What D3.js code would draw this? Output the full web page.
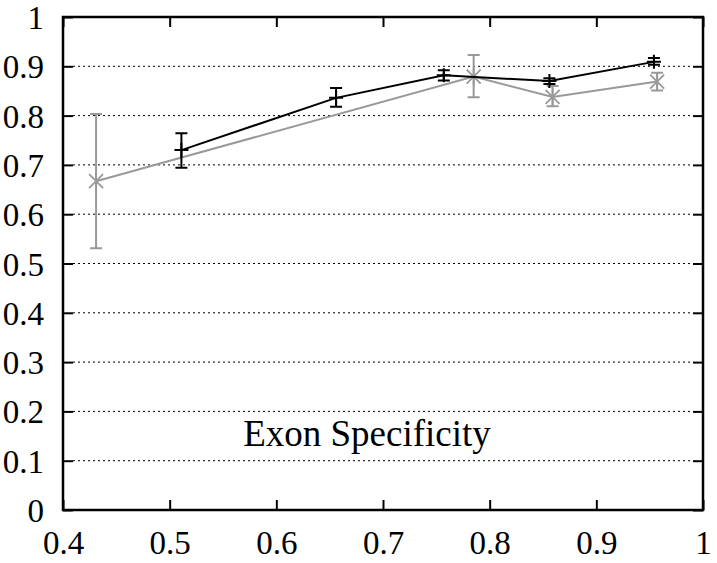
<!DOCTYPE html>
<html><head><meta charset="utf-8">
<script src="https://cdn.jsdelivr.net/npm/d3@7"></script>
<style>body{margin:0;background:#fff}svg{display:block}</style>
</head><body>
<svg id="c" width="717" height="563"></svg>
<script>
const xTicks = [0.4,0.5,0.6,0.7,0.8,0.9,1];
const yTicks = [0,0.1,0.2,0.3,0.4,0.5,0.6,0.7,0.8,0.9,1];
const blackX  = [0.511,0.656,0.757,0.856,0.954];
const blackY  = [0.730,0.836,0.882,0.870,0.909];
const blackLo = [0.694,0.818,0.871,0.864,0.903];
const blackHi = [0.764,0.856,0.892,0.876,0.917];
const grayX  = [0.431,0.785,0.859,0.957];
const grayY  = [0.667,0.879,0.838,0.869];
const grayLo = [0.531,0.837,0.819,0.851];
const grayHi = [0.803,0.923,0.860,0.887];
const title = "Exon Specificity";

const svg = d3.select("#c");
const L=63,R=703,T=17,B=510;
const x = d3.scaleLinear().domain([0.4,1]).range([L,R]);
const y = d3.scaleLinear().domain([0,1]).range([B,T]);
const font = '"Liberation Serif"';

// grid
svg.append("g").selectAll("line").data(yTicks.filter(d=>d>0&&d<1)).join("line")
  .attr("x1",L+10).attr("x2",R-10).attr("y1",d=>y(d)).attr("y2",d=>y(d))
  .attr("stroke","#000").attr("stroke-width",1).attr("stroke-dasharray","2,3");

// axes with inward ticks
const axB = d3.axisBottom(x).tickValues(xTicks).tickSize(-10).tickFormat(d=>d===1?"1":d3.format(".1f")(d));
const axT = d3.axisTop(x).tickValues(xTicks).tickSize(-10).tickFormat("");
const axL = d3.axisLeft(y).tickValues(yTicks).tickSize(-10).tickFormat(d=>d===0?"0":d===1?"1":d3.format(".1f")(d));
const axR = d3.axisRight(y).tickValues(yTicks).tickSize(-10).tickFormat("");
function style(g){
  g.select(".domain").remove();
  g.selectAll(".tick line").attr("stroke","#000").attr("stroke-width",2);
  g.selectAll("text").style("font-family",font).style("font-size","33px").attr("fill","#000");
}
svg.append("g").attr("transform",`translate(0,${B})`).call(axB).call(style)
  .selectAll("text").attr("dy",null).attr("y",44);
svg.append("g").attr("transform",`translate(0,${T})`).call(axT).call(style);
svg.append("g").attr("transform",`translate(${L},0)`).call(axL).call(style)
  .selectAll("text").attr("x",-19).attr("dy","0.35em");
svg.append("g").attr("transform",`translate(${R},0)`).call(axR).call(style);

svg.append("rect").attr("x",L).attr("y",T).attr("width",R-L).attr("height",B-T)
  .attr("fill","none").attr("stroke","#000").attr("stroke-width",2.5);

// series
function series(xs,ys,lo,hi,color,marker){
  const g = svg.append("g");
  const pts = xs.map((d,i)=>[x(d),y(ys[i])]);
  g.append("path").attr("d",d3.line()(pts)).attr("fill","none").attr("stroke",color).attr("stroke-width",2);
  xs.forEach((d,i)=>{
    const cx=x(d), y1=y(lo[i]), y2=y(hi[i]), w=6;
    g.append("path").attr("d",`M${cx},${y1}V${y2}M${cx-w},${y1}H${cx+w}M${cx-w},${y2}H${cx+w}`)
      .attr("stroke",color).attr("stroke-width",2).attr("fill","none");
    const cy=y(ys[i]);
    if(marker==="plus"){
      g.append("path").attr("d",`M${cx-7},${cy}H${cx+7}M${cx},${cy-7}V${cy+7}`).attr("stroke",color).attr("stroke-width",2);
    } else {
      const s=7;
      g.append("path").attr("d",`M${cx-s},${cy-s}L${cx+s},${cy+s}M${cx-s},${cy+s}L${cx+s},${cy-s}M${cx},${cy-s*1.3}V${cy+s*1.3}`)
        .attr("stroke",color).attr("stroke-width",1.8);
    }
  });
}
series(grayX,grayY,grayLo,grayHi,"#999","star");
series(blackX,blackY,blackLo,blackHi,"#000","plus");

svg.append("text").attr("x",367).attr("y",446).attr("text-anchor","middle")
  .style("font-family",font).style("font-size","37px").attr("fill","#000").text(title);
</script>
</body></html>
